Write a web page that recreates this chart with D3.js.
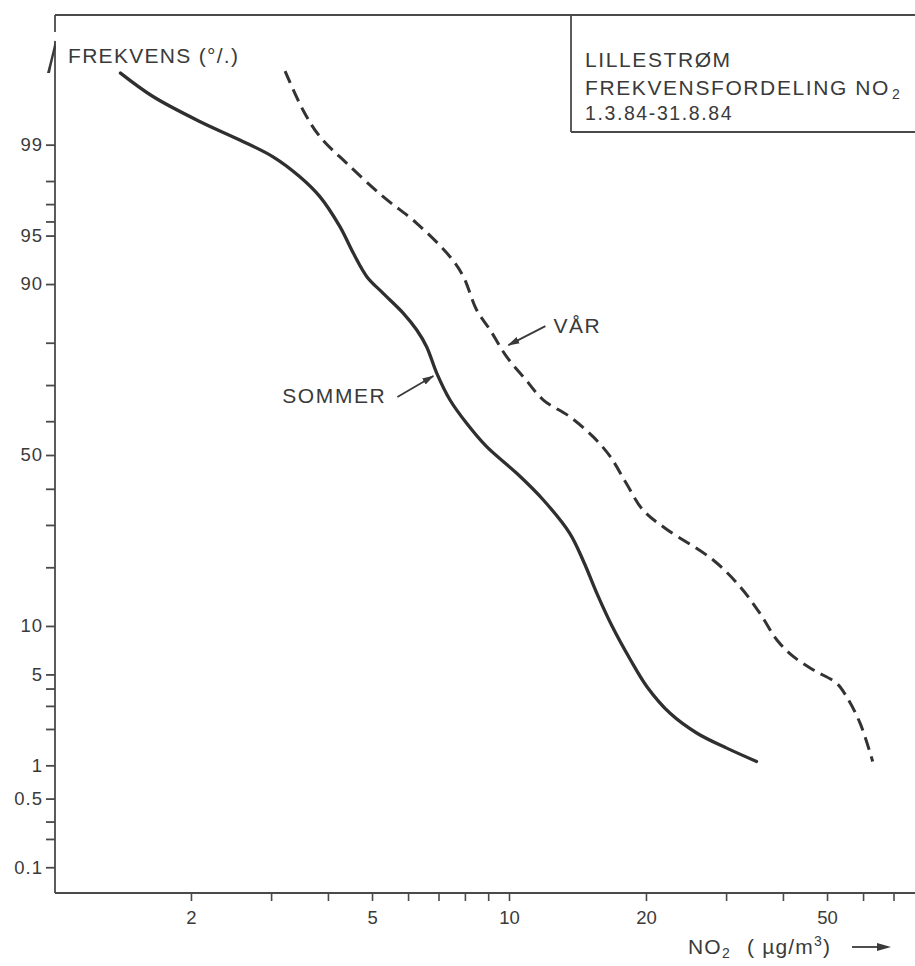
<!DOCTYPE html>
<html>
<head>
<meta charset="utf-8">
<script src="https://cdn.jsdelivr.net/npm/d3@7"></script>
<style>
  html, body { margin: 0; padding: 0; background: #ffffff; }
  svg { display: block; }
  text { font-family: "Liberation Sans", Arial, Helvetica, sans-serif; fill: #3a3a3a; }
</style>
</head>
<body>
<svg id="chart" width="915" height="966"></svg>
<script>
// Frequency distribution of NO2 at Lillestrøm, spring (VÅR) and summer (SOMMER) 1984
const sommerNO2  = [1.40, 1.65, 2.09, 2.56, 3.03, 3.47, 3.84, 4.25, 4.55, 4.87, 5.29, 5.86, 6.27, 6.59, 6.94, 7.42, 8.07, 8.93, 10.4, 11.9, 13.6, 14.6, 15.6, 16.8, 18.5, 20.1, 22.6, 25.9, 30.1, 35.0];
const sommerFreq = [99.79, 99.64, 99.38, 99.09, 98.73, 98.15, 97.36, 95.65, 93.47, 90.94, 88.72, 85.59, 82.56, 79.16, 72.98, 65.99, 59.39, 52.48, 44.54, 36.79, 27.86, 21.13, 14.99, 10.13, 6.22, 4.12, 2.64, 1.85, 1.40, 1.08];

const varNO2  = [3.22, 3.53, 3.84, 4.40, 5.29, 6.27, 7.42, 7.94, 8.49, 9.09, 9.88, 10.9, 11.9, 13.6, 15.3, 16.7, 18.1, 19.7, 22.0, 28.1, 32.2, 35.6, 38.8, 42.2, 46.7, 52.5, 55.2, 59.1, 63.0];
const varFreq = [99.80, 99.51, 99.15, 98.56, 97.36, 95.88, 93.14, 90.94, 86.15, 82.56, 76.94, 71.30, 65.99, 61.30, 55.46, 49.49, 41.60, 34.01, 29.21, 21.56, 16.18, 11.77, 8.28, 6.53, 5.35, 4.35, 3.50, 2.22, 1.08];

const yTickValues = [99, 98, 97, 96, 95, 90, 80, 70, 60, 50, 40, 30, 20, 10, 5, 4, 3, 2, 1, 0.5, 0.3, 0.2, 0.1];
const yTickLabels = ["99", "95", "90", "50", "10", "5", "1", "0.5", "0.1"];
const xTickValues = [2, 3, 4, 5, 6, 7, 8, 9, 10, 20, 30, 40, 50, 60, 70];
const xTickLabels = ["2", "5", "10", "20", "50"];

// Pointer labels, anchored on a point of each curve
const pointers = [
  { text: "SOMMER", no2: 6.82, freq: 72.3, start: [-36, 21], label: [-47, 27], anchor: "end" },
  { text: "VÅR",    no2: 9.97, freq: 79.5, start: [37, -19],  label: [45, -12], anchor: "start" }
];

// inverse standard normal CDF (Acklam's rational approximation)
function probit(p) {
  const a = [-3.969683028665376e+01, 2.209460984245205e+02, -2.759285104469687e+02, 1.383577518672690e+02, -3.066479806614716e+01, 2.506628277459239e+00];
  const b = [-5.447609879822406e+01, 1.615858368580409e+02, -1.556989798598866e+02, 6.680131188771972e+01, -1.328068155288572e+01];
  const c = [-7.784894002430293e-03, -3.223964580411365e-01, -2.400758277161838e+00, -2.549732539343734e+00, 4.374664141464968e+00, 2.938163982698783e+00];
  const d = [7.784695709041462e-03, 3.224671290700398e-01, 2.445134137142996e+00, 3.754408661907416e+00];
  const pl = 0.02425, ph = 1 - pl;
  let q, r;
  if (p < pl) {
    q = Math.sqrt(-2 * Math.log(p));
    return (((((c[0]*q + c[1])*q + c[2])*q + c[3])*q + c[4])*q + c[5]) / ((((d[0]*q + d[1])*q + d[2])*q + d[3])*q + 1);
  }
  if (p <= ph) {
    q = p - 0.5; r = q * q;
    return (((((a[0]*r + a[1])*r + a[2])*r + a[3])*r + a[4])*r + a[5])*q / (((((b[0]*r + b[1])*r + b[2])*r + b[3])*r + b[4])*r + 1);
  }
  q = Math.sqrt(-2 * Math.log(1 - p));
  return -(((((c[0]*q + c[1])*q + c[2])*q + c[3])*q + c[4])*q + c[5]) / ((((d[0]*q + d[1])*q + d[2])*q + d[3])*q + 1);
}

const W = 915, H = 966;
const frameLeft = 55, frameTop = 15, frameBottom = 893;
const ink = "#3a3a3a";

// log-scale concentration axis, normal-probability frequency axis
const x = d3.scaleLog().domain([1, 100]).range([54, 964]);
const z = d3.scaleLinear().domain([0, 1]).range([455, 321.6]);
const yOf = f => z(probit(f / 100));

const svg = d3.select("#chart");

// frame
const frame = svg.append("g").attr("stroke", "#4a4a4a").attr("stroke-width", 1.8).attr("fill", "none");
frame.append("line").attr("x1", frameLeft).attr("y1", frameTop).attr("x2", W).attr("y2", frameTop);
frame.append("line").attr("x1", frameLeft).attr("y1", frameTop).attr("x2", frameLeft).attr("y2", 32);
frame.append("line").attr("x1", frameLeft).attr("y1", 41).attr("x2", frameLeft).attr("y2", frameBottom);
frame.append("line").attr("x1", frameLeft).attr("y1", frameBottom).attr("x2", W).attr("y2", frameBottom);

// arrow barb at the top of the frequency axis
svg.append("path")
  .attr("d", "M55,40 C53,50 50,61 47,73 L50,73 C52,63 54,55 55.8,48 Z")
  .attr("fill", ink);

// title box
frame.append("line").attr("x1", 571).attr("y1", frameTop).attr("x2", 571).attr("y2", 132);
frame.append("line").attr("x1", 571).attr("y1", 132).attr("x2", W).attr("y2", 132);

const box = svg.append("g").attr("font-size", 21).attr("letter-spacing", 1.6);
box.append("text").attr("x", 585).attr("y", 67).text("LILLESTRØM");
const l2 = box.append("text").attr("x", 585).attr("y", 95);
l2.append("tspan").text("FREKVENSFORDELING NO");
l2.append("tspan").attr("font-size", 14).attr("dy", 4).attr("dx", 2).text("2");
box.append("text").attr("x", 585).attr("y", 120).attr("font-size", 19.5).text("1.3.84-31.8.84");

// frequency axis
const yAxis = d3.axisLeft(z)
  .tickValues(yTickValues.map(f => probit(f / 100)))
  .tickFormat((v, i) => yTickLabels.includes(String(yTickValues[i])) ? String(yTickValues[i]) : "")
  .tickSize(9)
  .tickPadding(4);
const gy = svg.append("g").attr("transform", `translate(${frameLeft},0)`).call(yAxis);
gy.select(".domain").remove();
gy.selectAll(".tick line").attr("stroke", "#4a4a4a").attr("stroke-width", 1.8);
gy.selectAll(".tick text")
  .attr("font-family", "Liberation Sans, Arial, sans-serif")
  .attr("font-size", 18.5).attr("letter-spacing", 1).attr("fill", ink)
  .attr("dx", 1);

// concentration axis
const xAxis = d3.axisBottom(x)
  .tickValues(xTickValues)
  .tickFormat(v => xTickLabels.includes(String(v)) ? String(v) : "")
  .tickSize(8)
  .tickPadding(10);
const gx = svg.append("g").attr("transform", `translate(0,${frameBottom})`).call(xAxis);
gx.select(".domain").remove();
gx.selectAll(".tick line").attr("stroke", "#4a4a4a").attr("stroke-width", 1.6);
gx.selectAll(".tick text")
  .attr("font-family", "Liberation Sans, Arial, sans-serif")
  .attr("font-size", 18.5).attr("fill", ink);

// axis titles
svg.append("text").attr("x", 68).attr("y", 63)
  .attr("font-size", 21).attr("letter-spacing", 1.3)
  .text("FREKVENS (°/.)");

const xt = svg.append("text").attr("x", 688).attr("y", 954).attr("font-size", 21).attr("letter-spacing", 1.2);
xt.append("tspan").text("NO");
xt.append("tspan").attr("font-size", 14).attr("dy", 4).text("2");
xt.append("tspan").attr("dy", -4).attr("dx", 16).text("( µg/m");
xt.append("tspan").attr("font-size", 14).attr("dy", -8).text("3");
xt.append("tspan").attr("dy", 8).text(")");
svg.append("line").attr("x1", 852).attr("y1", 947).attr("x2", 880).attr("y2", 947)
  .attr("stroke", ink).attr("stroke-width", 1.8);
svg.append("path").attr("d", "M877,943 L891,947 L877,951 Z").attr("fill", ink);

// curves
const line = d3.line()
  .x(d => x(d[0]))
  .y(d => yOf(d[1]))
  .curve(d3.curveCatmullRom.alpha(0.5));

svg.append("path")
  .datum(d3.zip(sommerNO2, sommerFreq))
  .attr("d", line)
  .attr("fill", "none").attr("stroke", "#2f2f2f").attr("stroke-width", 3.3)
  .attr("stroke-linecap", "round");

svg.append("path")
  .datum(d3.zip(varNO2, varFreq))
  .attr("d", line)
  .attr("fill", "none").attr("stroke", "#333333").attr("stroke-width", 3)
  .attr("stroke-dasharray", "13,7");

// pointer labels
const defs = svg.append("defs");
defs.append("marker").attr("id", "head")
  .attr("markerUnits", "userSpaceOnUse")
  .attr("viewBox", "0 0 12 8").attr("refX", 11).attr("refY", 4)
  .attr("markerWidth", 12).attr("markerHeight", 8).attr("orient", "auto")
  .append("path").attr("d", "M0,0.5 L12,4 L0,7.5 Z").attr("fill", ink);

pointers.forEach(p => {
  const tx = x(p.no2), ty = yOf(p.freq);
  svg.append("line")
    .attr("x1", tx + p.start[0]).attr("y1", ty + p.start[1])
    .attr("x2", tx).attr("y2", ty)
    .attr("stroke", ink).attr("stroke-width", 1.8)
    .attr("marker-end", "url(#head)");
  svg.append("text")
    .attr("x", tx + p.label[0]).attr("y", ty + p.label[1])
    .attr("text-anchor", p.anchor)
    .attr("font-size", 21).attr("letter-spacing", 1.6)
    .text(p.text);
});
</script>
</body>
</html>
